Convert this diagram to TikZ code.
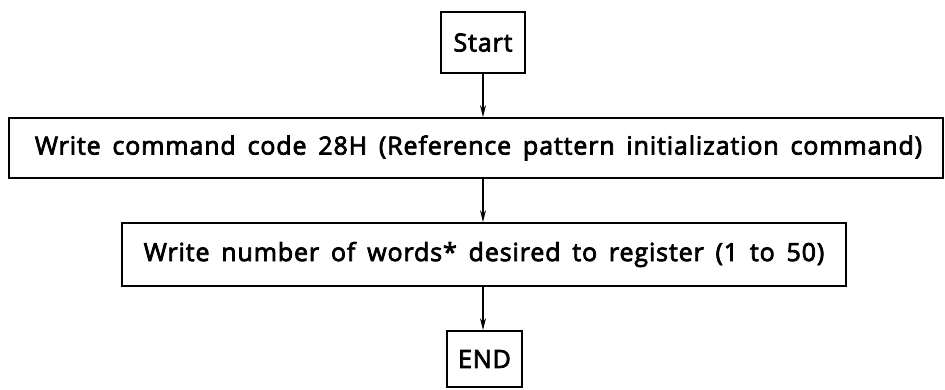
\documentclass[tikz,border=0pt]{standalone}
\usepackage{fontspec}
\setmainfont{Open Sans}
\newfontfamily\boxfont{Open Sans}[WordSpace=1.6, LetterSpace=3.5, FakeBold=3]
\usetikzlibrary{arrows.meta}
\begin{document}
\begin{tikzpicture}[x=1pt,y=-1pt,
  box/.style={draw, line width=1.7pt, inner sep=0pt,
    font=\boxfont\fontsize{25}{30}\selectfont},
  flow/.style={line width=1.4pt, -{Stealth[length=12pt,width=6pt]}}]
\useasboundingbox (0,0) rectangle (945,389);
\fill[white] (0,0) rectangle (945,389);
\node[box, minimum width=84pt, minimum height=61pt] (start) at (483,42.5) {Start};
\node[box, minimum width=934pt, minimum height=60pt] (init) at (476,148)
  {\hspace*{5pt}Write command code 28H (Reference pattern initialization command)};
\node[box, minimum width=724pt, minimum height=63pt] (count) at (484,254.5)
  {Write number of words* desired to register (1 to 50)};
\node[box, minimum width=75pt, minimum height=56pt] (stop) at (484.5,359) {END};
\draw[flow] (start) -- (init.north -| start);
\draw[flow] (init.south -| start) -- (count.north -| start);
\draw[flow] (count.south -| start) -- (stop.north -| start);
\end{tikzpicture}
\end{document}
